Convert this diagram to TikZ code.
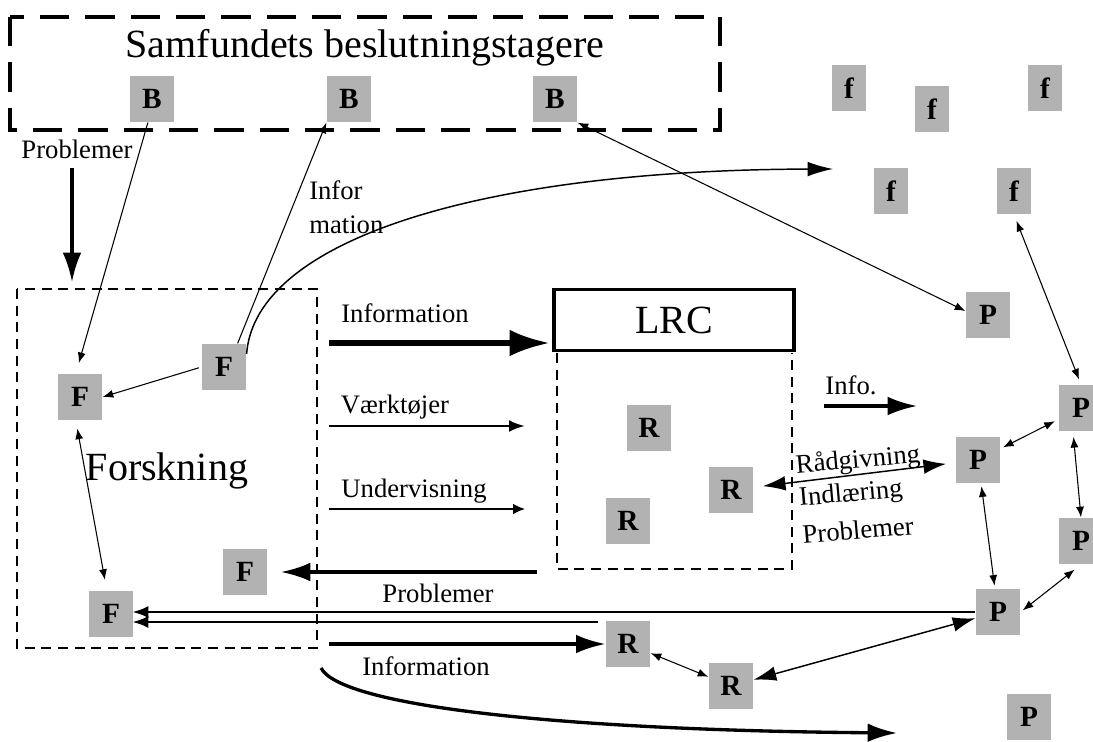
\documentclass[tikz,border=0pt]{standalone}
\usepackage{fontspec}
\setmainfont{Liberation Serif}
\usetikzlibrary{arrows.meta}
\newcommand{\bigtxt}{\fontsize{30}{34}\selectfont}
\newcommand{\smalltxt}{\fontsize{20}{25.5}\selectfont}
\newcommand{\boxtxt}{\fontsize{22}{26}\selectfont\bfseries}
\tikzset{
    actor/.style={fill=gray!60, minimum width=33.5pt, minimum height=35pt, inner sep=0pt, font=\boxtxt},
    narrow/.style={actor, minimum width=26pt},
    lbl/.style={font=\smalltxt, inner sep=0pt},
    bigdash/.style={line width=3pt, dash pattern=on 22pt off 12pt},
    smalldash/.style={line width=1.1pt, dash pattern=on 7.5pt off 5pt},
    hugearrow/.style={line width=4pt, -{Latex[length=30pt,width=20pt]}},
    bigarrow/.style={line width=2.5pt, -{Latex[length=22pt,width=14pt]}},
    midarrow/.style={line width=2pt, -{Latex[length=12pt,width=9pt]}},
    smallarrow/.style={line width=1pt, -{Latex[length=9pt,width=8pt]}},
    thinarrow/.style={line width=0.8pt, -{Latex[length=8pt,width=6pt]}},
    curvearrow/.style={line width=1.1pt, -{Latex[length=19pt,width=11pt]}},
    twoway/.style={line width=0.8pt, {Latex[length=8pt,width=6pt]}-{Latex[length=8pt,width=6pt]}},
    twowaybig/.style={line width=1.1pt, {Latex[length=17pt,width=11pt]}-{Latex[length=17pt,width=11pt]}}
}

\begin{document}
\begin{tikzpicture}[x=0.75pt, y=-0.75pt]
    \useasboundingbox (0,0) rectangle (1093,742);

    \draw[bigdash] (10,17) rectangle (720,130);
    \node[font=\bigtxt, inner sep=0pt] (title) at (365,48) {Samfundets beslutningstagere};
    \node[actor] (B1) at (152,99) {B};
    \node[actor] (B2) at (349,99) {B};
    \node[actor] (B3) at (555,99) {B};

    \node[narrow] (f1) at (849,88) {f};
    \node[narrow] (f2) at (932,109) {f};
    \node[narrow] (f3) at (1045,88) {f};
    \node[narrow] (f4) at (891,191) {f};
    \node[narrow] (f5) at (1014,191) {f};

    \draw[smalldash] (17,289) rectangle (317,648);
    \node[font=\bigtxt, inner sep=0pt] (forsk) at (167,471) {Forskning};
    \node[actor] (Fl) at (80,397) {F};
    \node[actor] (Fm) at (224,367) {F};
    \node[actor] (Fml) at (245,572) {F};
    \node[actor] (Fb) at (111,614) {F};

    \node[draw, line width=2.6pt, minimum width=180pt, minimum height=46pt, font=\bigtxt] (LRC) at (674,320) {LRC};
    \draw[smalldash] (557,353) -- (557,569) -- (792,569) -- (792,353);
    \node[actor] (R1) at (649,428) {R};
    \node[actor] (R2) at (731,490) {R};
    \node[actor] (R3) at (628,521) {R};
    \node[actor] (Rb1) at (628,644) {R};
    \node[actor] (Rb2) at (731,686) {R};

    \node[actor] (P1) at (988,315) {P};
    \node[actor] (Pr1) at (1081,408) {P};
    \node[actor] (Pm) at (978,460) {P};
    \node[actor] (Pr2) at (1081,541) {P};
    \node[actor] (Pb) at (998,612) {P};
    \node[actor] (Pl) at (1029,717) {P};

    \node[lbl] (prob1) at (77,149) {Problemer};
    \node[lbl, align=left, anchor=west] (info1) at (309,207) {Infor\\mation};
    \node[lbl] (info2) at (405,313) {Information};
    \node[lbl] (vaerk) at (395,407) {Værktøjer};
    \node[lbl] (underv) at (414,491) {Undervisning};
    \node[lbl] (prob2) at (438,593) {Problemer};
    \node[lbl] (info3) at (426,666) {Information};
    \node[lbl] (info4) at (851,385) {Info.};
    \node[lbl, rotate=5] (raad) at (858,461) {Rådgivning};
    \node[lbl, rotate=5] (indl) at (851,495) {Indlæring};
    \node[lbl, rotate=5] (prob3) at (858,530) {Problemer};

    \coordinate (pdA) at (72,168);
    \coordinate (pdB) at (72,282);
    \draw[bigarrow] (pdA) -- (pdB);
    \draw[thinarrow, shorten >=8pt] (B1.-100) -- (Fl.100);
    \draw[thinarrow, shorten <=2pt] (Fm.west) -- (Fl.east);
    \draw[thinarrow] (Fm.60) -- (B2.south west);
    \draw[twoway, shorten <=6pt, shorten >=8pt] (Fl.-100) -- (Fb.100);
    \coordinate (cT) at (833,169);
    \draw[curvearrow] (Fm.30) .. controls (255,240) and (480,170) .. (cT);
    \draw[twoway] (B3.south east) -- (P1.170);
    \draw[twoway, shorten <=5pt, shorten >=4pt] (f5.south) -- (Pr1.north);

    \coordinate (iA) at (329,343);
    \draw[hugearrow, shorten >=2pt] (iA) -- (iA -| LRC.west);
    \coordinate (vA) at (329,426);
    \coordinate (vB) at (525,426);
    \draw[midarrow] (vA) -- (vB);
    \coordinate (uA) at (329,509);
    \coordinate (uB) at (525,509);
    \draw[smallarrow] (uA) -- (uB);
    \coordinate (pA) at (537,572);
    \draw[bigarrow, shorten >=10pt] (pA) -- (Fml.east);
    \draw[midarrow, shorten >=-1pt] (Pb.west) -- (Pb.west -| Fb.east);
    \coordinate (pB) at (598,622);
    \draw[midarrow, shorten >=-1pt] (pB) -- (pB -| Fb.east);
    \coordinate (ibA) at (329,644);
    \draw[bigarrow] (ibA) -- (Rb1.west);
    \coordinate (cA) at (321,668);
    \coordinate (cB) at (897,733);
    \draw[bigarrow] (cA) .. controls (340,705) and (550,730) .. (cB);

    \coordinate (iiA) at (824,406);
    \coordinate (iiB) at (917,406);
    \draw[bigarrow] (iiA) -- (iiB);
    \draw[twowaybig, shorten <=7pt, shorten >=7pt] (R2) -- (Pm);
    \draw[twoway] (Rb1) -- (Rb2);
    \draw[twowaybig] (Rb2) -- (Pb);
    \draw[twoway, shorten <=2pt, shorten >=2pt] (Pm) -- (Pb);
    \draw[twoway, shorten <=2pt, shorten >=3pt] (Pm) -- (Pr1);
    \draw[twoway, shorten <=4pt] ([xshift=-6pt]Pr1.south) -- (Pr2.north);
    \draw[twoway, shorten <=6pt, shorten >=2pt] (Pr2.south) -- (Pb.east);
\end{tikzpicture}
\end{document}
